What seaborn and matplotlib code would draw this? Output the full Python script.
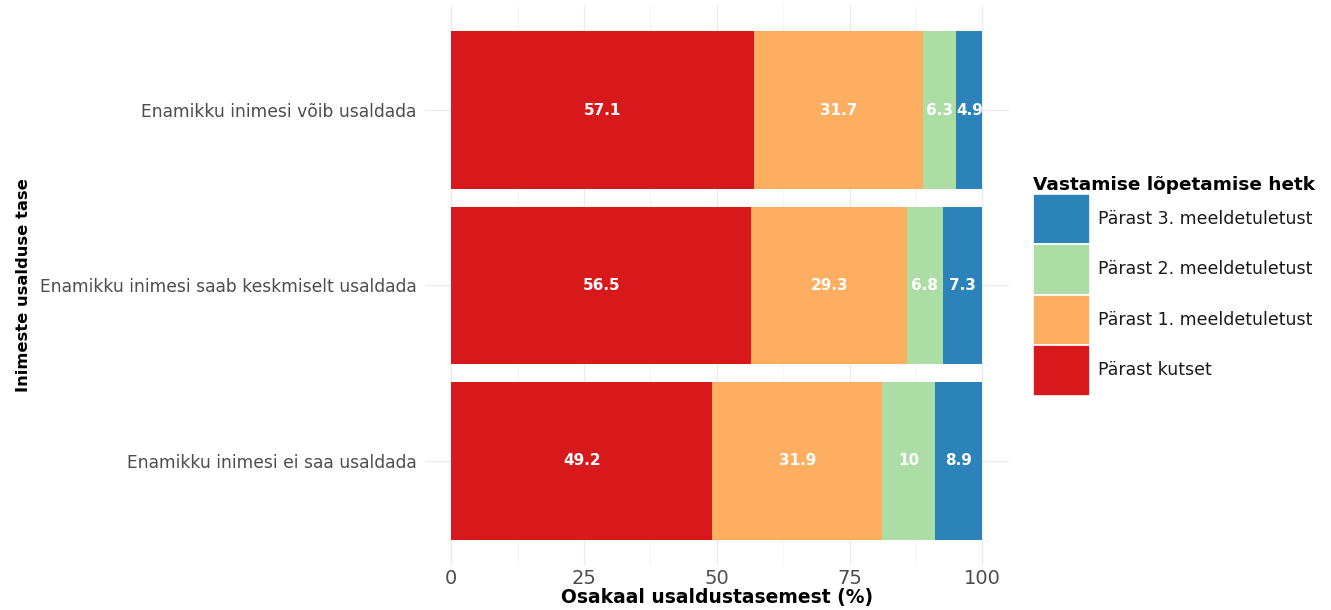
import numpy as np
import pandas as pd
import seaborn as sns
import matplotlib.pyplot as plt
from matplotlib.patches import Patch

# Trust level categories (top to bottom)
categories = [
    "Enamikku inimesi võib usaldada",
    "Enamikku inimesi saab keskmiselt usaldada",
    "Enamikku inimesi ei saa usaldada",
]
# Response stage names, in stacking order (left to right)
stages = [
    "Pärast kutset",
    "Pärast 1. meeldetuletust",
    "Pärast 2. meeldetuletust",
    "Pärast 3. meeldetuletust",
]
after_invite = [57.1, 56.5, 49.2]
after_rem1 = [31.7, 29.3, 31.9]
after_rem2 = [6.3, 6.8, 10.0]
after_rem3 = [4.9, 7.3, 8.9]
stage_colors = ["#d7191c", "#fdae61", "#abdda4", "#2b83ba"]
x_ticks = [0, 25, 50, 75, 100]

values = np.array([after_invite, after_rem1, after_rem2, after_rem3])
cumulative = np.cumsum(values, axis=0)

sns.set_theme(style="whitegrid")
plt.rcParams["font.family"] = ["DejaVu Sans"]

fig = plt.figure(figsize=(13.31, 6.10), dpi=100)
ax = fig.add_axes([0.319, 0.072, 0.439, 0.920])

# Draw stacked bars: the widest cumulative layer first, then narrower on top
for i in range(len(stages) - 1, -1, -1):
    df = pd.DataFrame({"kategooria": categories, "vaartus": cumulative[i]})
    sns.barplot(data=df, x="vaartus", y="kategooria", order=categories,
                color=stage_colors[i], width=0.9, orient="h", ax=ax,
                saturation=1, edgecolor="none", linewidth=0)

# Segment value labels
for i in range(len(stages)):
    for j in range(len(categories)):
        start = cumulative[i, j] - values[i, j]
        center = start + values[i, j] / 2
        ax.text(center, j, f"{values[i, j]:g}", ha="center", va="center",
                color="white", fontsize=11, fontweight="bold")

ax.set_xlim(-5, 105)
ax.set_ylim(2.6, -0.6)
ax.set_xticks(x_ticks)
ax.set_xticklabels([str(t) for t in x_ticks])
ax.set_xticks([12.5, 37.5, 62.5, 87.5], minor=True)

ax.set_facecolor("white")
for s in ax.spines.values():
    s.set_visible(False)
ax.grid(True, which="major", axis="both", color="#ebebeb", linewidth=1.0)
ax.grid(True, which="minor", axis="x", color="#f2f2f2", linewidth=0.6)
ax.set_axisbelow(True)
ax.tick_params(axis="x", which="both", length=0, labelsize=14,
               labelcolor="#4d4d4d", pad=2)
ax.tick_params(axis="y", length=0, labelsize=12.3, labelcolor="#4d4d4d", pad=6)

ax.set_xlabel("Osakaal usaldustasemest (%)", fontsize=13.5, fontweight="bold",
              color="black", labelpad=0)
ax.set_ylabel("Inimeste usalduse tase", fontsize=11.8, fontweight="bold",
              color="black", labelpad=6)

handles = [Patch(facecolor=stage_colors[i], edgecolor="white", linewidth=1.2,
                 label=stages[i]) for i in range(len(stages) - 1, -1, -1)]
leg = fig.legend(handles=handles, title="Vastamise lõpetamise hetk",
                 loc="upper left", bbox_to_anchor=(0.776, 0.712),
                 frameon=False, fontsize=12.5, handlelength=3.28,
                 handleheight=4.1, labelspacing=0.0, handletextpad=0.45,
                 borderaxespad=0, borderpad=0)
leg.get_title().set_fontweight("bold")
leg.get_title().set_fontsize(13.3)
leg.get_title().set_color("black")
for t in leg.get_texts():
    t.set_color("#1a1a1a")
leg._legend_box.align = "left"

fig.savefig("out.png", dpi=100, facecolor="white")
